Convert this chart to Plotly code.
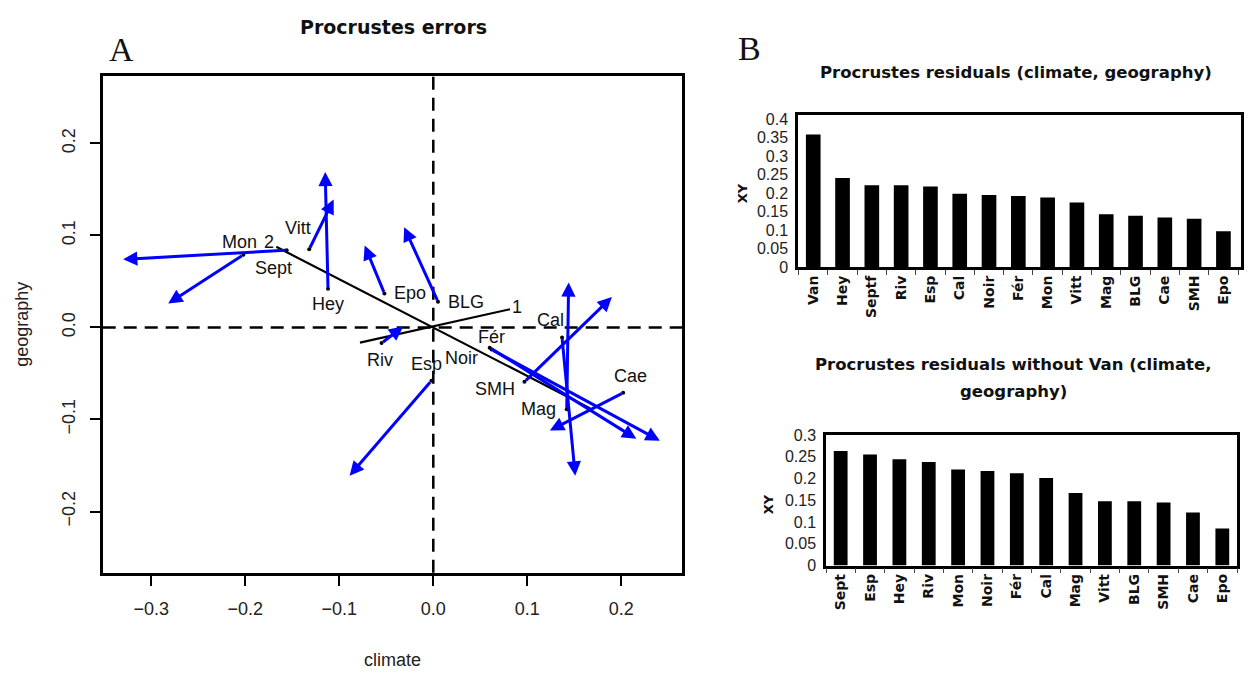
import plotly.graph_objects as go

# ---------------- Panel A data (Procrustes errors) ----------------
sites_A = ["Sept", "Mon", "Vitt", "Hey", "Epo", "BLG", "Riv", "Esp",
           "Fér", "Noir", "Cal", "SMH", "Mag", "Cae"]
tail_x = [-0.156, -0.202, -0.132, -0.112, -0.052, 0.005, -0.055, -0.002,
          0.060, 0.062, 0.137, 0.097, 0.142, 0.202]
tail_y = [0.084, 0.079, 0.085, 0.042, 0.037, 0.028, -0.017, -0.058,
          -0.022, -0.024, -0.011, -0.059, -0.089, -0.071]
head_x = [-0.330, -0.282, -0.106, -0.115, -0.073, -0.031, -0.032, -0.089,
          0.216, 0.241, 0.151, 0.190, 0.144, 0.124]
head_y = [0.074, 0.026, 0.139, 0.169, 0.089, 0.109, 0.001, -0.161,
          -0.121, -0.123, -0.161, 0.033, 0.049, -0.112]

# rotation axes (start -> labelled end)
rot_names = ["1", "2"]
rot_x0 = [-0.078, 0.167]
rot_y0 = [-0.0165, -0.088]
rot_x1 = [0.0816, -0.167]
rot_y1 = [0.0198, 0.0876]

xticks_A = [-0.3, -0.2, -0.1, 0.0, 0.1, 0.2]
yticks_A = [-0.2, -0.1, 0.0, 0.1, 0.2]

# ---------------- Panel B data ----------------
cats_B1 = ["Van", "Hey", "Septf", "Riv", "Esp", "Cal", "Noir", "Fér", "Mon",
           "Vitt", "Mag", "BLG", "Cae", "SMH", "Epo"]
vals_B1 = [0.358, 0.241, 0.221, 0.221, 0.218, 0.198, 0.195, 0.192, 0.188,
           0.175, 0.143, 0.139, 0.134, 0.131, 0.097]
cats_B2 = ["Sept", "Esp", "Hey", "Riv", "Mon", "Noir", "Fér", "Cal", "Mag",
           "Vitt", "BLG", "SMH", "Cae", "Epo"]
vals_B2 = [0.263, 0.255, 0.244, 0.238, 0.2205, 0.2175, 0.212, 0.201, 0.1665,
           0.148, 0.148, 0.145, 0.122, 0.085]

# label pixel offsets (style) for panel A site labels
label_shift = {
    "Sept": (-13, -18), "Mon": (-4, 13), "Vitt": (-11, 21), "Hey": (0, -15),
    "Epo": (26, 0), "BLG": (28, 0), "Riv": (-2, -17), "Esp": (-5, 17),
    "Fér": (2, 11), "Noir": (-30, -8), "Cal": (-12, 18), "SMH": (-29, -7),
    "Mag": (-28, 0), "Cae": (7, 17),
}
rot_shift = {"1": (7, 2), "2": (-7, 5)}

W, H = 1252, 675
BLUE = "#0000FF"
SANS = "Liberation Sans, Arial, sans-serif"
BOLD = "DejaVu Sans, sans-serif"
SERIF = "Liberation Serif, Times New Roman, serif"

fig = go.Figure()

# rotation axis lines
for i in range(len(rot_names)):
    fig.add_trace(go.Scatter(x=[rot_x0[i], rot_x1[i]], y=[rot_y0[i], rot_y1[i]],
                             mode="lines", line=dict(color="black", width=2.2),
                             showlegend=False, hoverinfo="skip",
                             xaxis="x", yaxis="y"))

# tail dots
fig.add_trace(go.Scatter(x=tail_x, y=tail_y, mode="markers",
                         marker=dict(color="black", size=4),
                         showlegend=False, hoverinfo="skip", xaxis="x", yaxis="y"))

annotations = []
for i, s in enumerate(sites_A):
    annotations.append(dict(x=head_x[i], y=head_y[i], ax=tail_x[i], ay=tail_y[i],
                            xref="x", yref="y", axref="x", ayref="y", text="",
                            showarrow=True, arrowhead=2, arrowsize=0.95,
                            arrowwidth=3, arrowcolor=BLUE, standoff=0))
for i, s in enumerate(sites_A):
    dx, dy = label_shift[s]
    annotations.append(dict(x=tail_x[i], y=tail_y[i], xref="x", yref="y", text=s,
                            showarrow=False, xshift=dx, yshift=dy,
                            xanchor="center", yanchor="middle",
                            font=dict(family=SANS, size=18, color="#111")))
for i, s in enumerate(rot_names):
    dx, dy = rot_shift[s]
    annotations.append(dict(x=rot_x1[i], y=rot_y1[i], xref="x", yref="y", text=s,
                            showarrow=False, xshift=dx, yshift=dy,
                            xanchor="center", yanchor="middle",
                            font=dict(family=SANS, size=18, color="#111")))

# Panel B bars
fig.add_trace(go.Bar(x=cats_B1, y=vals_B1, marker=dict(color="black", line=dict(width=0)),
                     width=0.5, showlegend=False, xaxis="x2", yaxis="y2"))
fig.add_trace(go.Bar(x=cats_B2, y=vals_B2, marker=dict(color="black", line=dict(width=0)),
                     width=0.47, showlegend=False, xaxis="x3", yaxis="y3"))


def paper_text(px, py, text, font, angle=0):
    return dict(x=px / W, y=1 - py / H, xref="paper", yref="paper", text=text,
                showarrow=False, xanchor="center", yanchor="middle",
                textangle=angle, font=font)


annotations += [
    paper_text(393, 20, "<b>Procrustes errors</b>", dict(family=BOLD, size=19, color="#111")),
    paper_text(121, 43, "A", dict(family=SERIF, size=34, color="#111")),
    paper_text(749, 42, "B", dict(family=SERIF, size=34, color="#111")),
    paper_text(392, 669, "climate", dict(family=SANS, size=18, color="#222")),
    paper_text(22, 325, "geography", dict(family=SANS, size=18, color="#222"), -90),
    paper_text(1016, 66, "<b>Procrustes residuals (climate, geography)</b>",
               dict(family=BOLD, size=16.5, color="#111")),
    paper_text(1013, 366, "<b>Procrustes residuals without Van (climate,</b>",
               dict(family=BOLD, size=16.5, color="#111")),
    paper_text(1013, 393, "<b>geography)</b>",
               dict(family=BOLD, size=16.5, color="#111")),
    paper_text(742, 190, "<b>XY</b>", dict(family=BOLD, size=13, color="#111"), -90),
    paper_text(768, 509, "<b>XY</b>", dict(family=BOLD, size=13, color="#111"), -90),
]

shapes = [
    dict(type="line", xref="x", yref="y domain", x0=0, x1=0, y0=0, y1=1,
         line=dict(color="black", width=2.5, dash="13px,8px"), layer="below"),
    dict(type="line", xref="x domain", yref="y", x0=0, x1=1, y0=0, y1=0,
         line=dict(color="black", width=2.5, dash="13px,8px"), layer="below"),
]

axA = dict(showline=True, mirror=True, linecolor="black", linewidth=3,
           ticks="outside", ticklen=10, tickwidth=2.2, tickcolor="black",
           showgrid=False, zeroline=False, tickformat=".1f",
           tickfont=dict(family=SANS, size=18, color="#222"), ticklabelstandoff=8)

catfont = dict(family=BOLD, size=14, color="#111", weight="bold")
numfont = dict(family=SANS, size=16, color="#222")

fig.update_layout(
    width=W, height=H, margin=dict(l=0, r=0, t=0, b=0),
    paper_bgcolor="white", plot_bgcolor="white", showlegend=False,
    xaxis=dict(axA, domain=[102.7 / W, 682 / W], range=[-0.3517, 0.2646],
               tickvals=xticks_A, anchor="y"),
    yaxis=dict(axA, domain=[1 - 579.3 / H, 1 - 70 / H], range=[-0.2665, 0.273],
               tickvals=yticks_A, tickangle=-90, anchor="x"),
    xaxis2=dict(domain=[798 / W, 1241 / W], anchor="y2", type="category",
                range=[-0.52, 14.6], showline=True, mirror=True, linecolor="black",
                linewidth=2.5, ticks="outside", tickson="boundaries", ticklen=5,
                tickcolor="#444", tickangle=-90, showgrid=False, tickfont=catfont),
    yaxis2=dict(domain=[1 - 266 / H, 1 - 110 / H], anchor="x2", range=[0, 0.41],
                dtick=0.05, showline=True, mirror=True, linecolor="black",
                linewidth=2.5, ticks="", showgrid=False, zeroline=False,
                tickfont=numfont, ticklabelstandoff=4),
    xaxis3=dict(domain=[826 / W, 1237 / W], anchor="y3", type="category",
                range=[-0.5, 13.5], showline=True, mirror=True, linecolor="black",
                linewidth=2.5, ticks="outside", tickson="boundaries", ticklen=5,
                tickcolor="#444", tickangle=-90, showgrid=False, tickfont=catfont),
    yaxis3=dict(domain=[1 - 572 / H, 1 - 438 / H], anchor="x3", range=[0, 0.3],
                dtick=0.05, showline=True, mirror=True, linecolor="black",
                linewidth=2.5, ticks="", showgrid=False, zeroline=False,
                tickfont=numfont, ticklabelstandoff=4),
    annotations=annotations, shapes=shapes,
)

fig.write_html("out.html", config={"displayModeBar": False},
               post_script="document.body.style.margin='0px';")
